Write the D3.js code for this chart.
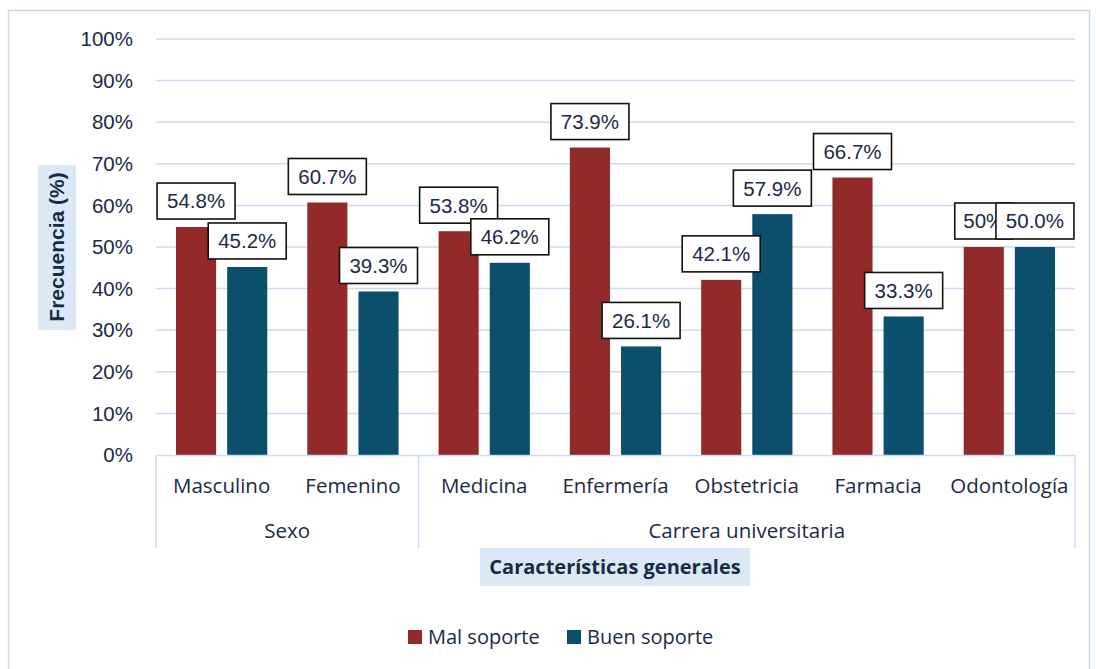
<!DOCTYPE html>
<html><head><meta charset="utf-8">
<script src="https://cdn.jsdelivr.net/npm/d3@7"></script>
<style>body{margin:0;background:#fff}svg{display:block}</style>
</head><body>
<svg id="c" width="1096" height="669"></svg>
<script>
const categories = ["Masculino","Femenino","Medicina","Enfermería","Obstetricia","Farmacia","Odontología"];
const groups = [{name:"Sexo", from:0, to:1},{name:"Carrera universitaria", from:2, to:6}];
const series = ["Mal soporte","Buen soporte"];
const malSoporte = [54.8, 60.7, 53.8, 73.9, 42.1, 66.7, 50.0];
const buenSoporte = [45.2, 39.3, 46.2, 26.1, 57.9, 33.3, 50.0];
const malLabels = ["54.8%","60.7%","53.8%","73.9%","42.1%","66.7%","50%"];
const buenLabels = ["45.2%","39.3%","46.2%","26.1%","57.9%","33.3%","50.0%"];
const yTicks = [0,10,20,30,40,50,60,70,80,90,100];
const colors = ["#922a2a","#0b4f6c"];

const svg = d3.select("#c");
const txt = "#1b2a44";
const fontA = "'Liberation Sans', Arial, sans-serif";
const fontB = "'Open Sans', 'Noto Sans', sans-serif";

// outer border
svg.append("rect").attr("x",8.5).attr("y",10.5).attr("width",1081).attr("height",670)
  .attr("fill","#fff").attr("stroke","#c5d9f0").attr("stroke-width",1.5);

const L=156, R=1075, T=39, B=455;
const x0 = d3.scaleBand().domain(categories).range([L,R]).padding(0);
const bw = x0.bandwidth();
const x1 = d3.scaleBand().domain(series).range([20, bw-20]).paddingInner(0.216);
const y = d3.scaleLinear().domain([0,100]).range([B,T]);

// gridlines
svg.append("g").selectAll("line").data(yTicks.filter(d=>d>0)).join("line")
  .attr("x1",L).attr("x2",R).attr("y1",d=>y(d)).attr("y2",d=>y(d))
  .attr("stroke","#c9dcf0").attr("stroke-width",1.5);

// y tick labels
svg.append("g").selectAll("text").data(yTicks).join("text")
  .attr("x",133).attr("y",d=>y(d)).attr("dy","0.35em").attr("text-anchor","end")
  .attr("font-family",fontA).attr("font-size",20.5).attr("fill",txt).text(d=>d+"%");

// bars
const data = categories.map((c,i)=>({c, vals:[malSoporte[i],buenSoporte[i]], labs:[malLabels[i],buenLabels[i]]}));
const gCat = svg.append("g").selectAll("g").data(data).join("g")
  .attr("transform",d=>`translate(${x0(d.c)},0)`);
gCat.selectAll("rect").data(d=>d.vals.map((v,j)=>({v,s:series[j],j}))).join("rect")
  .attr("x",d=>x1(d.s)).attr("width",x1.bandwidth())
  .attr("y",d=>y(d.v)).attr("height",d=>B-y(d.v)).attr("fill",d=>colors[d.j]);

// x axis line
svg.append("line").attr("x1",L).attr("x2",R).attr("y1",B+0.5).attr("y2",B+0.5)
  .attr("stroke","#c9dcf0").attr("stroke-width",1.5);

// data labels (boxes)
const labG = svg.append("g");
data.forEach(d=>{
  [0,1].forEach(j=>{
    const cx = x0(d.c)+x1(series[j])+x1.bandwidth()/2;
    const lab = d.labs[j];
    const w = lab.length<=3 ? 58 : 78, h = 36;
    const bottom = y(d.vals[j]) - 8;
    const g = labG.append("g");
    g.append("rect").attr("x",cx-w/2).attr("y",bottom-h).attr("width",w).attr("height",h)
      .attr("fill","#fff").attr("stroke","#111").attr("stroke-width",1.6);
    g.append("text").attr("x",cx).attr("y",bottom-h/2).attr("dy","0.36em").attr("text-anchor","middle")
      .attr("font-family",fontA).attr("font-size",20.5).attr("fill",txt).text(lab);
  });
});

// category labels
svg.append("g").selectAll("text").data(categories).join("text")
  .attr("x",d=>x0(d)+bw/2).attr("y",486).attr("dy","0.35em").attr("text-anchor","middle")
  .attr("font-family",fontB).attr("font-size",20.5).attr("fill",txt).text(d=>d);

// group separators
const seps = [L, x0(categories[groups[1].from]), R];
svg.append("g").selectAll("line").data(seps).join("line")
  .attr("x1",d=>d).attr("x2",d=>d).attr("y1",B).attr("y2",548)
  .attr("stroke","#c9dcf0").attr("stroke-width",1.5);
svg.append("g").selectAll("text").data(groups).join("text")
  .attr("x",d=>(x0(categories[d.from])+x0(categories[d.to])+bw)/2).attr("y",531).attr("dy","0.35em")
  .attr("text-anchor","middle").attr("font-family",fontB).attr("font-size",20.5).attr("fill",txt).text(d=>d.name);

// x title
svg.append("rect").attr("x",480).attr("y",548).attr("width",270).attr("height",38).attr("fill","#dbe8f6");
svg.append("text").attr("x",615).attr("y",567).attr("dy","0.35em").attr("text-anchor","middle")
  .attr("font-family",fontB).attr("font-weight","bold").attr("font-size",20).attr("fill",txt)
  .text("Características generales");

// y title
svg.append("rect").attr("x",38).attr("y",165).attr("width",38).attr("height",165).attr("fill","#dbe8f6");
svg.append("text").attr("transform","translate(57,247) rotate(-90)").attr("dy","0.35em").attr("text-anchor","middle")
  .attr("font-family",fontA).attr("font-weight","bold").attr("font-size",21).attr("fill",txt)
  .text("Frecuencia (%)");

// legend
const leg = svg.append("g");
const legX = [408, 567];
series.forEach((s,j)=>{
  leg.append("rect").attr("x",legX[j]).attr("y",630).attr("width",14).attr("height",14).attr("fill",colors[j]);
  leg.append("text").attr("x",legX[j]+20).attr("y",637).attr("dy","0.35em")
    .attr("font-family",fontB).attr("font-size",20).attr("fill",txt).text(s);
});
</script>
</body></html>
